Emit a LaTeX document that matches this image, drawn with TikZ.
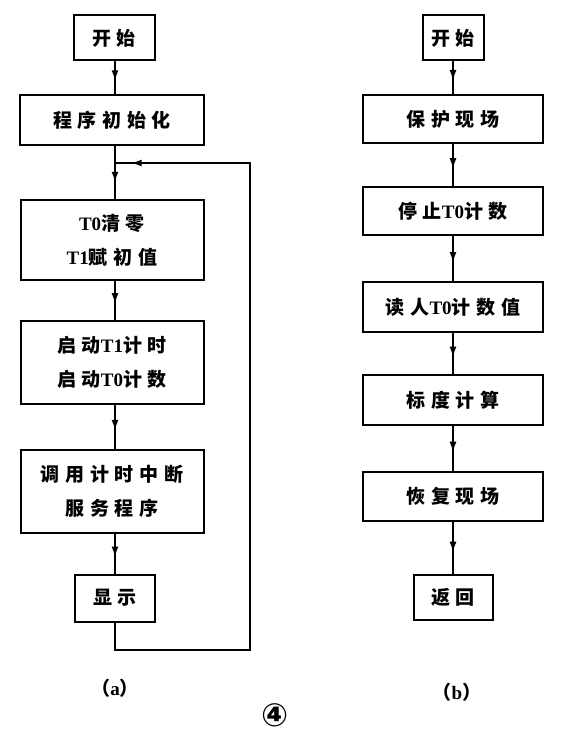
\documentclass[tikz,border=0pt]{standalone}
\usepackage{fontspec}
\setmainfont{Liberation Serif}
\newfontfamily\zh{Noto Sans CJK SC}[LetterSpace=30]
\newfontfamily\circfont{DejaVu Sans}
\usetikzlibrary{arrows.meta,decorations.markings}
\newcommand{\zi}[1]{{\zh #1}}
\tikzset{
  every picture/.style={font=\fontsize{19}{34}\selectfont\bfseries, text=black},
  flow box/.style={draw=black, line width=2pt, align=center, inner sep=0pt},
  flow line/.style={draw=black, line width=2pt, postaction={decorate},
    decoration={markings, mark=at position #1 with {\arrow{Latex[length=11pt,width=7pt]}}}},
  flow line/.default=0.6,
  plain line/.style={draw=black, line width=2pt}
}
\begin{document}
\begin{tikzpicture}[x=1pt,y=-1pt]
  \useasboundingbox (0,0) rectangle (569,741);
  % (a) main program
  \node[flow box, minimum width=81, minimum height=45] (startA) at (114,38) {\zi{开始}};
  \node[flow box, minimum width=184, minimum height=49] (initA) at (112,120) {\zi{程序初始化}};
  \node[flow box, minimum width=183, minimum height=80] (clearA) at (112,240) {T0\zi{清零}\\T1\zi{赋初值}};
  \node[flow box, minimum width=183, minimum height=83] (runA) at (112,362) {\zi{启动}T1\zi{计时}\\\zi{启动}T0\zi{计数}};
  \node[flow box, minimum width=183, minimum height=83] (callA) at (112,491) {\zi{调用计时中断}\\\zi{服务程序}};
  \node[flow box, minimum width=80, minimum height=47] (showA) at (115,598) {\zi{显示}};
  \coordinate (joinA) at (115,163);
  \coordinate (loopA) at (250,650);
  \draw[flow line] (startA.south -| joinA) -- (initA.north -| joinA);
  \draw[plain line] (initA.south -| joinA) -- (joinA);
  \draw[flow line=0.55] (joinA) -- (clearA.north -| joinA);
  \draw[flow line] (clearA.south -| joinA) -- (runA.north -| joinA);
  \draw[flow line] (runA.south -| joinA) -- (callA.north -| joinA);
  \draw[flow line] (callA.south -| joinA) -- (showA.north -| joinA);
  \draw[flow line=0.98] (showA.south) |- (loopA) |- (joinA);
  \node (capA) at (115,688) {\zi{（}a\zi{）}};
  % (b) interrupt routine
  \node[flow box, minimum width=61, minimum height=45] (startB) at (453,38) {\zi{开始}};
  \node[flow box, minimum width=180, minimum height=48] (saveB) at (453,119) {\zi{保护现场}};
  \node[flow box, minimum width=180, minimum height=48] (stopB) at (453,211) {\zi{停止}T0\zi{计数}};
  \node[flow box, minimum width=180, minimum height=50] (readB) at (453,307) {\zi{读人}T0\zi{计数值}};
  \node[flow box, minimum width=180, minimum height=50] (scaleB) at (453,400) {\zi{标度计算}};
  \node[flow box, minimum width=180, minimum height=49] (restoreB) at (453,496) {\zi{恢复现场}};
  \node[flow box, minimum width=79, minimum height=45] (retB) at (453,597) {\zi{返回}};
  \draw[flow line] (startB) -- (saveB);
  \draw[flow line] (saveB) -- (stopB);
  \draw[flow line] (stopB) -- (readB);
  \draw[flow line] (readB) -- (scaleB);
  \draw[flow line] (scaleB) -- (restoreB);
  \draw[flow line] (restoreB) -- (retB);
  \node (capB) at (457,692) {\zi{（}b\zi{）}};
  \node[font=\fontsize{32}{32}\selectfont\circfont\bfseries] (figNo) at (275,715) {④};
\end{tikzpicture}
\end{document}
